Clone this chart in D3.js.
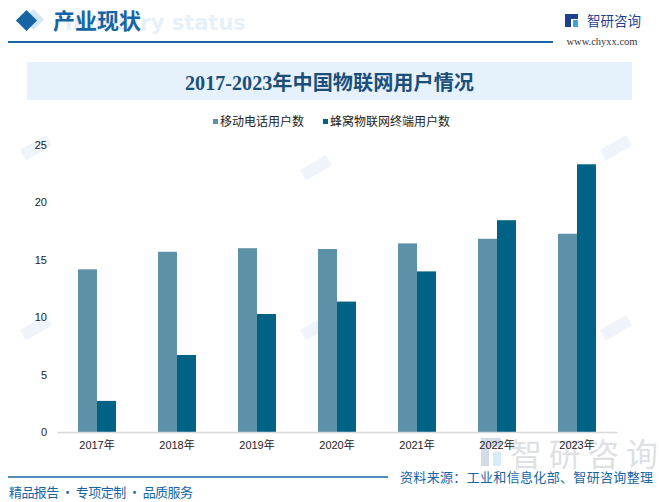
<!DOCTYPE html>
<html>
<head>
<meta charset="utf-8">
<script src="https://cdn.jsdelivr.net/npm/d3@7"></script>
<style>
  html, body { margin: 0; padding: 0; background: #fff; }
  svg { display: block; }
</style>
</head>
<body>
<script>
const categories = ["2017年", "2018年", "2019年", "2020年", "2021年", "2022年", "2023年"];
const seriesNames = ["移动电话用户数", "蜂窝物联网终端用户数"];
const mobileUsers = [14.17, 15.70, 16.01, 15.94, 16.43, 16.83, 17.27];
const iotUsers = [2.71, 6.71, 10.28, 11.36, 13.99, 18.45, 23.32];
const yTicks = [0, 5, 10, 15, 20, 25];
const titleText = "2017-2023年中国物联网用户情况";
const colors = ["#5d91a8", "#006285"];

const W = 659, H = 502;
const svg = d3.select("body").append("svg").attr("width", W).attr("height", H);
const cjk = "'Noto Sans CJK SC', 'Noto Sans', sans-serif";

// faint background logo marks
const wm = svg.append("g").attr("fill", "#eef4f9");
[[20, 150], [300, 170], [20, 330], [300, 330], [600, 150], [600, 330]].forEach(([x, y]) => {
  wm.append("rect").attr("x", x).attr("y", y).attr("width", 30).attr("height", 12)
    .attr("transform", `rotate(-30,${x},${y})`);
});

// header
svg.append("rect").attr("x", 26).attr("y", 12).attr("width", 15).attr("height", 15)
  .attr("fill", "#d5e6f3").attr("transform", "rotate(45,33.5,19.5)");
svg.append("rect").attr("x", 19).attr("y", 13).attr("width", 15).attr("height", 15)
  .attr("fill", "#1565a5").attr("transform", "rotate(45,26.5,20.5)");
svg.append("text").attr("x", 65).attr("y", 30).attr("font-family", "'DejaVu Sans', sans-serif")
  .attr("font-weight", "bold").attr("font-size", 21).attr("fill", "#e6f0f9").text("Industry status");
svg.append("text").attr("x", 53).attr("y", 29).attr("font-family", cjk).attr("font-weight", "bold")
  .attr("font-size", 22).attr("fill", "#1565a5").text("产业现状");
svg.append("line").attr("x1", 8).attr("x2", 553).attr("y1", 42).attr("y2", 42)
  .attr("stroke", "#1767a3").attr("stroke-width", 2);

// logo
const lg = svg.append("g");
lg.append("rect").attr("x", 565).attr("y", 14).attr("width", 6).attr("height", 13).attr("fill", "#1f3f8f");
lg.append("rect").attr("x", 571).attr("y", 14).attr("width", 7).attr("height", 5).attr("fill", "#1f3f8f");
lg.append("rect").attr("x", 573).attr("y", 20).attr("width", 5).attr("height", 7).attr("fill", "#3fa2de");
lg.append("text").attr("x", 587).attr("y", 26).attr("font-family", cjk).attr("font-size", 13.5)
  .attr("fill", "#1f3f8f").text("智研咨询");
lg.append("text").attr("x", 602).attr("y", 45).attr("text-anchor", "middle")
  .attr("font-family", "'Liberation Serif', serif").attr("font-size", 10.5).attr("fill", "#333").text("www.chyxx.com");

// title box
svg.append("rect").attr("x", 27).attr("y", 62).attr("width", 605).attr("height", 38).attr("fill", "#e6f2fb");
svg.append("text").attr("x", 329.5).attr("y", 90).attr("text-anchor", "middle")
  .attr("font-family", "'Liberation Serif', 'Noto Sans CJK SC', serif").attr("font-weight", "bold")
  .attr("font-size", 20).attr("fill", "#1b4f79")
  .attr("textLength", 289).attr("lengthAdjust", "spacingAndGlyphs").text(titleText);

// legend
const legX = [213, 323];
seriesNames.forEach((n, i) => {
  svg.append("rect").attr("x", legX[i]).attr("y", 119).attr("width", 5).attr("height", 5).attr("fill", colors[i]);
  svg.append("text").attr("x", legX[i] + 7).attr("y", 125.5).attr("font-family", cjk).attr("font-size", 12)
    .attr("fill", "#222").text(n);
});

// chart
const x0 = d3.scaleBand().domain(categories).range([57, 617]);
const barW = 19;
const y = d3.scaleLinear().domain([0, 25]).range([432, 145]);

const g = svg.append("g");
const series = [mobileUsers, iotUsers];
series.forEach((vals, si) => {
  g.selectAll(null).data(categories).enter().append("rect")
    .attr("x", (d) => x0(d) + x0.bandwidth() / 2 - barW + si * barW)
    .attr("width", barW)
    .attr("y", (d, i) => y(vals[i]))
    .attr("height", (d, i) => y(0) - y(vals[i]))
    .attr("fill", colors[si]);
});

// y axis labels
const yAxis = d3.axisLeft(y).tickValues(yTicks).tickSize(0).tickPadding(0);
const ya = svg.append("g").attr("transform", "translate(47,0)").call(yAxis);
ya.select(".domain").remove();
ya.selectAll("text").attr("font-family", "'Liberation Sans', Arial, sans-serif").attr("font-size", 11).attr("fill", "#222");

// big watermark logo bottom right (drawn behind axis labels)
const bw = svg.insert("g", "g").attr("opacity", 0.45);
bw.append("rect").attr("x", 481).attr("y", 438).attr("width", 8).attr("height", 28).attr("fill", "#9fb0d0");
bw.append("rect").attr("x", 489).attr("y", 438).attr("width", 12).attr("height", 9).attr("fill", "#9fb0d0");
bw.append("rect").attr("x", 493).attr("y", 452).attr("width", 8).attr("height", 14).attr("fill", "#a9d4f0");
bw.append("text").attr("x", 510).attr("y", 466).attr("font-family", cjk).attr("font-size", 32)
  .attr("fill", "#b8bcc4").attr("textLength", 148).text("智研咨询");

// x axis
const xAxis = d3.axisBottom(x0).tickSize(0).tickPadding(9);
const xa = svg.append("g").attr("transform", "translate(0,432)").call(xAxis);
xa.select(".domain").attr("stroke", "#d9d9d9").attr("stroke-width", 1.5);
xa.selectAll("text").attr("font-family", "'Liberation Sans', 'Noto Sans CJK SC', sans-serif").attr("font-size", 11).attr("fill", "#222");

// footer
svg.append("line").attr("x1", 8).attr("x2", 388).attr("y1", 477).attr("y2", 477)
  .attr("stroke", "#1767a3").attr("stroke-width", 1.5);
svg.append("text").attr("x", 400).attr("y", 482).attr("font-family", cjk).attr("font-size", 13)
  .attr("fill", "#1565a5").attr("textLength", 253).text("资料来源：工业和信息化部、智研咨询整理");
svg.append("text").attr("x", 9).attr("y", 497).attr("font-family", cjk).attr("font-size", 13)
  .attr("fill", "#1565a5").attr("textLength", 184).text("精品报告 · 专项定制 · 品质服务");
</script>
</body>
</html>
